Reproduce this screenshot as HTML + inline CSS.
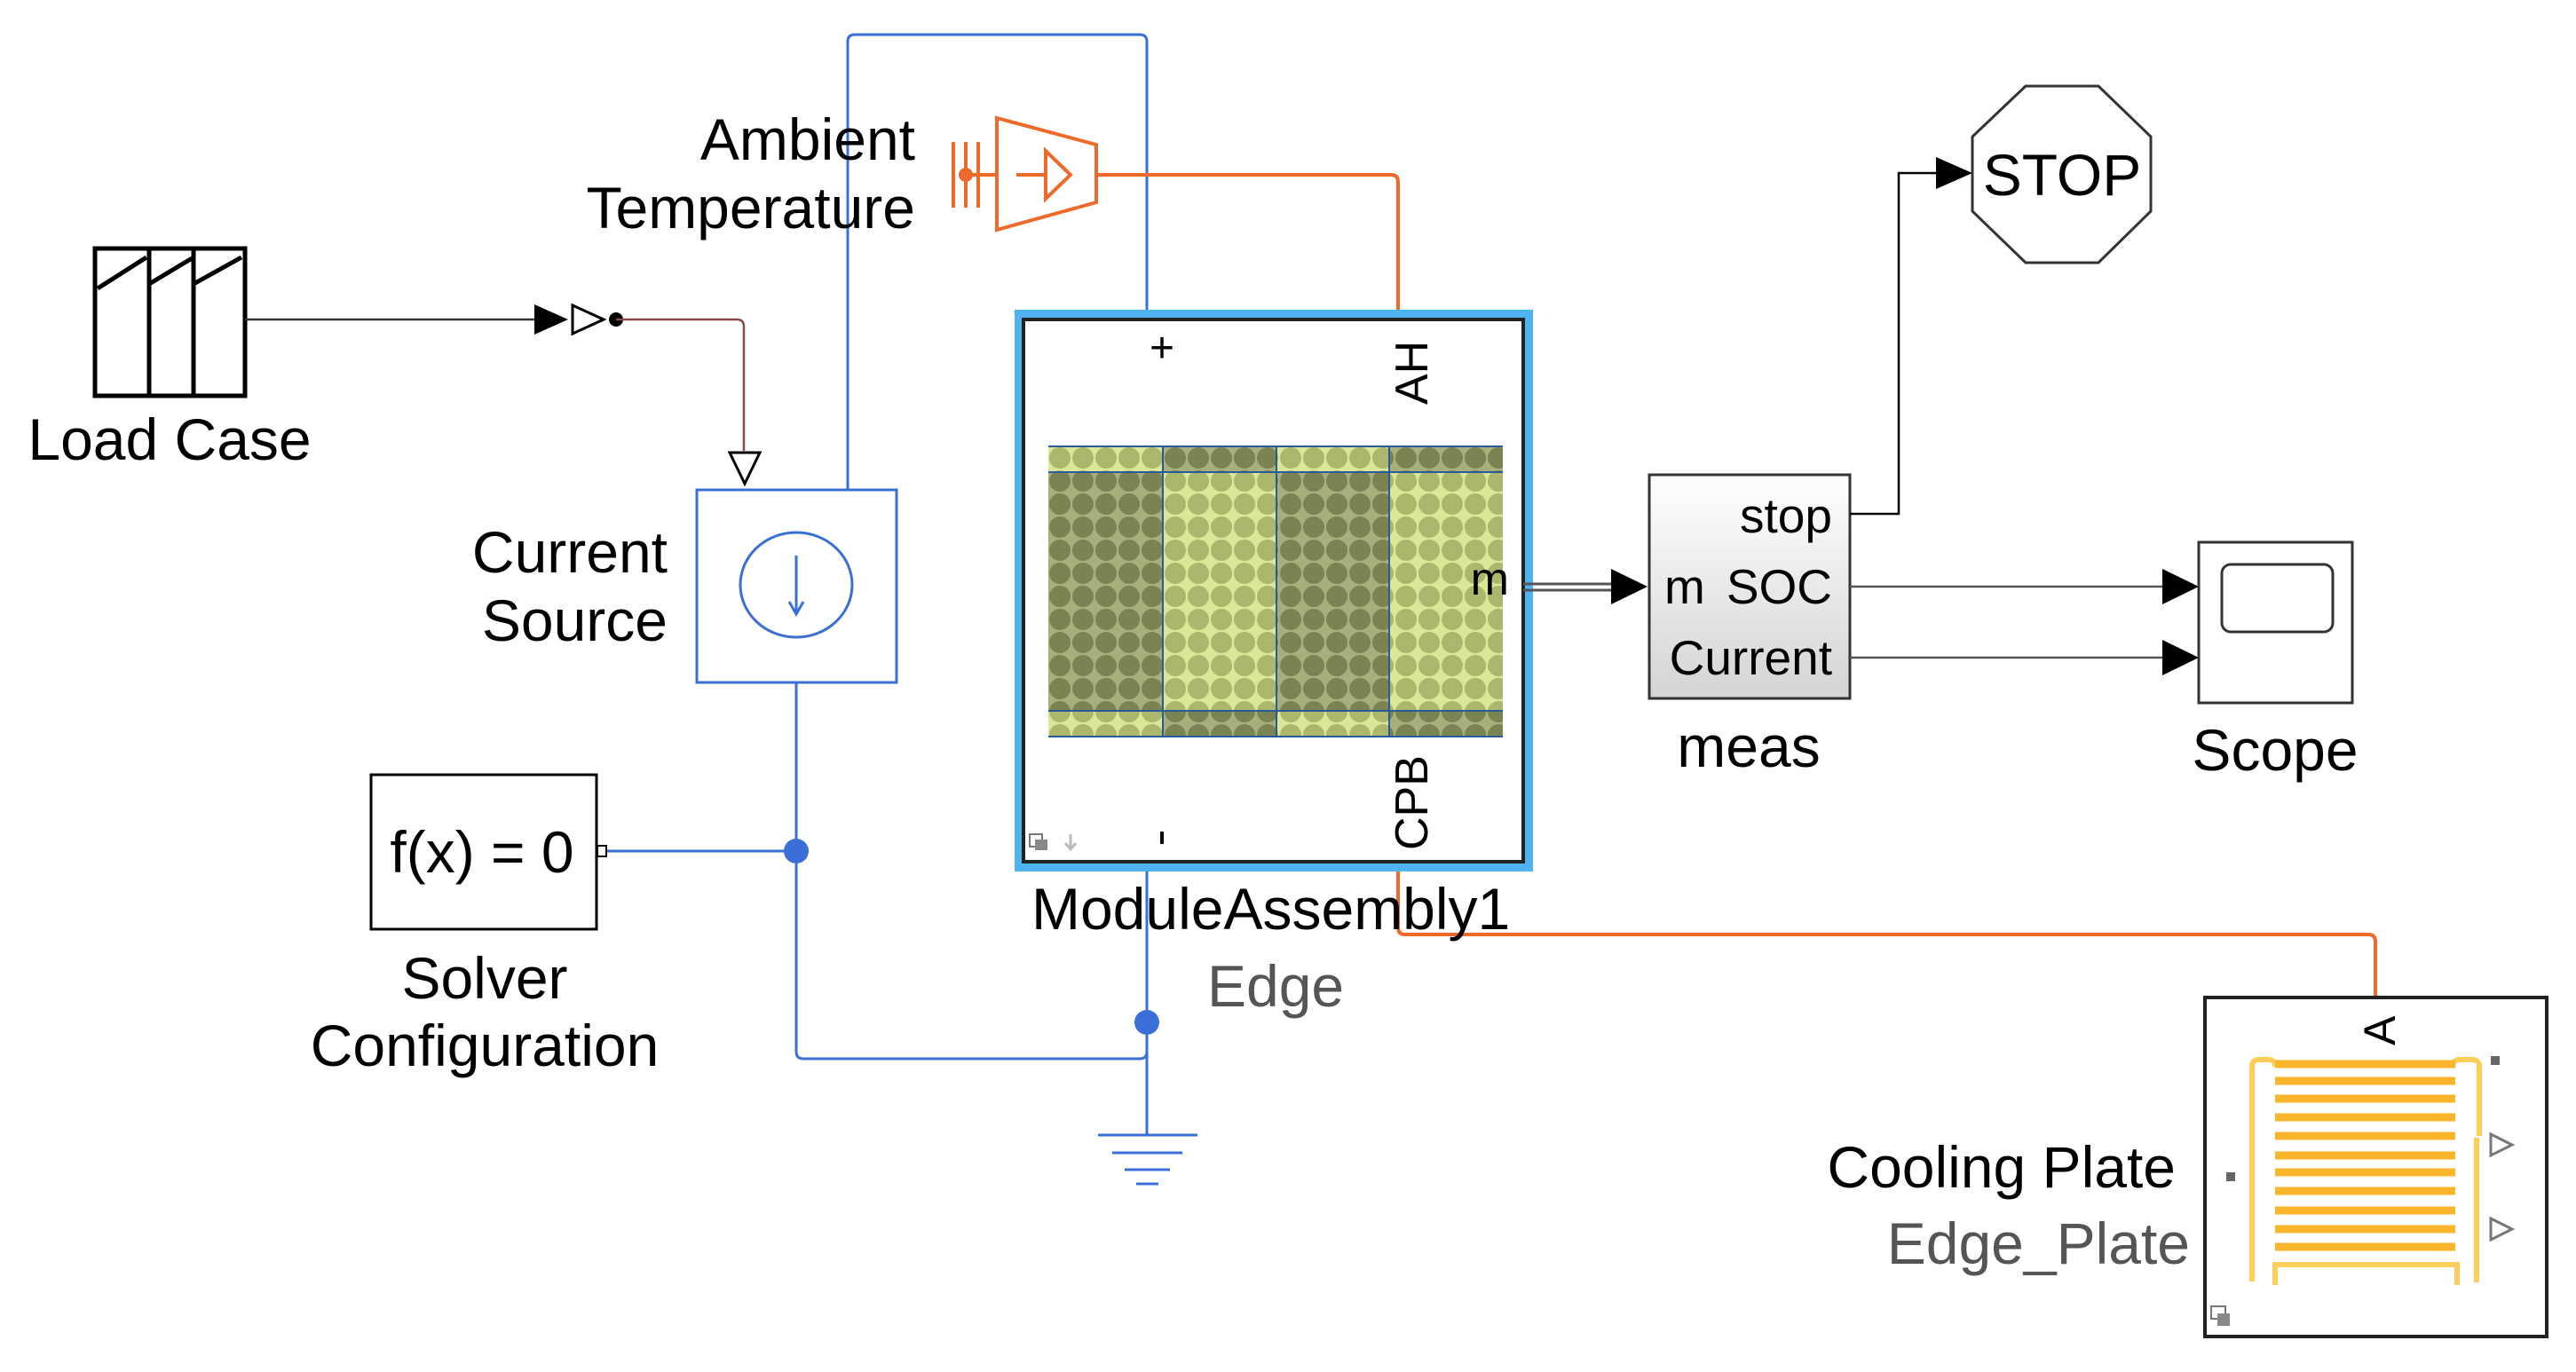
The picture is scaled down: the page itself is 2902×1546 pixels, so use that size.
<!DOCTYPE html>
<html><head><meta charset="utf-8"><style>html,body{margin:0;padding:0;background:#fff}svg{display:block}text{font-family:"Liberation Sans",sans-serif}</style></head>
<body>
<svg width="2902" height="1546" viewBox="0 0 2902 1546" xmlns="http://www.w3.org/2000/svg">
<defs>
<pattern id="pd" x="1181" y="503" width="26" height="26" patternUnits="userSpaceOnUse"><rect width="26" height="26" fill="#a6b07a"/><circle cx="13" cy="13" r="12" fill="#7a8352"/></pattern>
<pattern id="pl" x="1181" y="503" width="26" height="26" patternUnits="userSpaceOnUse"><rect width="26" height="26" fill="#dbe696"/><circle cx="13" cy="13" r="12" fill="#abb76c"/></pattern>
<linearGradient id="gm" x1="0" y1="0" x2="0" y2="1"><stop offset="0" stop-color="#ffffff"/><stop offset="1" stop-color="#d4d4d4"/></linearGradient>
</defs>

<!-- Load case -->
<rect x="107" y="280" width="169" height="166" fill="#fff" stroke="#000" stroke-width="5"/>
<path d="M110 325 L165 290 M168 280 V446 M168 320 L218 290 M218 280 V446 M218 320 L272 290" stroke="#000" stroke-width="5" fill="none"/>
<text x="191" y="518" font-size="66" text-anchor="middle">Load Case</text>
<line x1="276" y1="360" x2="602" y2="360" stroke="#333" stroke-width="2.5"/>
<polygon points="602,343 640,360 602,377" fill="#000"/>
<polygon points="645,344 680,360 645,376" fill="#fff" stroke="#000" stroke-width="3"/>
<circle cx="694" cy="360" r="8" fill="#000"/>
<path d="M694 360 H830 Q838 360 838 368 V508" stroke="#8a4a4a" stroke-width="2.5" fill="none"/>
<polygon points="822,510 856,510 839,545" fill="#fff" stroke="#000" stroke-width="3"/>

<!-- Current source -->
<rect x="785" y="552" width="225" height="217" fill="#fff" stroke="#3a6fd8" stroke-width="3"/>
<ellipse cx="897" cy="659" rx="63" ry="59" fill="none" stroke="#3a6fd8" stroke-width="3"/>
<path d="M897 626 V690 M889 678 L897 692 L905 678" stroke="#3a6fd8" stroke-width="3" fill="none"/>
<text x="752" y="645" font-size="66" text-anchor="end">Current</text>
<text x="752" y="722" font-size="66" text-anchor="end">Source</text>

<!-- blue wires -->
<path d="M955 552 V47 Q955 39 963 39 H1284 Q1292 39 1292 47 V360" stroke="#3a6fd8" stroke-width="3" fill="none"/>
<path d="M897 769 V1185 Q897 1193 905 1193 H1284 Q1292 1193 1292 1185" stroke="#3a6fd8" stroke-width="3" fill="none"/>
<path d="M1292 971 V1279" stroke="#3a6fd8" stroke-width="3" fill="none"/>
<path d="M684 959 H897" stroke="#3a6fd8" stroke-width="3" fill="none"/>
<circle cx="897" cy="959" r="14" fill="#3a6fd8"/>
<circle cx="1292" cy="1152" r="14" fill="#3a6fd8"/>
<path d="M1237 1279 H1349 M1253 1299 H1332 M1267 1318 H1318 M1280 1334 H1305" stroke="#3a6fd8" stroke-width="3"/>

<!-- Solver -->
<rect x="418" y="873" width="254" height="174" fill="#fff" stroke="#000" stroke-width="3"/>
<rect x="673" y="953" width="10" height="12" fill="#fff" stroke="#000" stroke-width="2"/>
<text x="543" y="983" font-size="66" text-anchor="middle">f(x) = 0</text>
<text x="546" y="1125" font-size="66" text-anchor="middle">Solver</text>
<text x="546" y="1201" font-size="66" text-anchor="middle">Configuration</text>

<!-- Ambient temp -->
<text x="1031" y="180" font-size="66" text-anchor="end">Ambient</text>
<text x="1031" y="257" font-size="66" text-anchor="end">Temperature</text>
<g stroke="#ee6a2a" stroke-width="4" fill="none">
<path d="M1074 160 V234 M1088 160 V234 M1102 160 V234 M1088 197 H1123"/>
<polygon points="1123,133 1235,163 1235,228 1123,259"/>
<path d="M1145 197 H1178 M1178 170 L1206 197 L1178 224 Z"/>
<path d="M1235 197 H1567 Q1575 197 1575 205 V360"/>
<path d="M1575 971 V1045 Q1575 1053 1583 1053 H2668 Q2676 1053 2676 1061 V1124"/>
</g>
<circle cx="1088" cy="197" r="8" fill="#ee6a2a"/>

<!-- Module -->
<rect x="1148" y="354" width="574" height="623" fill="none" stroke="#4fb3f0" stroke-width="10"/>
<rect x="1153" y="360" width="563" height="611" fill="#fff" stroke="#222" stroke-width="4"/>
<rect x="1181" y="503" width="129" height="327" fill="url(#pd)"/>
<rect x="1310" y="503" width="128" height="327" fill="url(#pl)"/>
<rect x="1438" y="503" width="127" height="327" fill="url(#pd)"/>
<rect x="1565" y="503" width="128" height="327" fill="url(#pl)"/>
<rect x="1181" y="503" width="129" height="29" fill="url(#pl)"/>
<rect x="1310" y="503" width="128" height="29" fill="url(#pd)"/>
<rect x="1438" y="503" width="127" height="29" fill="url(#pl)"/>
<rect x="1565" y="503" width="128" height="29" fill="url(#pd)"/>
<rect x="1181" y="801" width="129" height="29" fill="url(#pl)"/>
<rect x="1310" y="801" width="128" height="29" fill="url(#pd)"/>
<rect x="1438" y="801" width="127" height="29" fill="url(#pl)"/>
<rect x="1565" y="801" width="128" height="29" fill="url(#pd)"/>
<path d="M1181 503 H1693 M1181 532 H1693 M1181 801 H1693 M1181 830 H1693 M1310 503 V830 M1438 503 V830 M1565 503 V830" stroke="#2a5a9a" stroke-width="2"/>
<text x="1309" y="408" font-size="48" text-anchor="middle">+</text>
<rect x="1307" y="937" width="4" height="14" fill="#000"/>
<text font-size="52" transform="translate(1608 456) rotate(-90)">AH</text>
<text font-size="52" transform="translate(1608 958) rotate(-90)">CPB</text>
<text x="1700" y="670" font-size="52" text-anchor="end">m</text>
<rect x="1160" y="940" width="14" height="14" fill="#fff" stroke="#777" stroke-width="2"/><rect x="1166" y="946" width="14" height="12" fill="#888"/>
<path d="M1206 940 V956 M1200 950 L1206 957 L1212 950" stroke="#bbb" stroke-width="3" fill="none"/>
<text x="1162" y="1047" font-size="66">ModuleAssembly1</text>
<text x="1360" y="1134" font-size="66" fill="#555">Edge</text>

<!-- m signal -->
<path d="M1716 658 H1815 M1716 665 H1815" stroke="#555" stroke-width="3"/>
<polygon points="1815,641 1856,661 1815,681" fill="#000"/>

<!-- meas -->
<rect x="1858" y="535" width="226" height="252" fill="url(#gm)" stroke="#333" stroke-width="3"/>
<text x="2064" y="600" font-size="55" text-anchor="end">stop</text>
<text x="2064" y="680" font-size="55" text-anchor="end">SOC</text>
<text x="1875" y="680" font-size="55">m</text>
<text x="2064" y="760" font-size="55" text-anchor="end">Current</text>
<text x="1970" y="864" font-size="66" text-anchor="middle">meas</text>

<path d="M2084 579 H2139 V195 H2181" stroke="#000" stroke-width="2.5" fill="none"/>
<polygon points="2181,177 2222,195 2181,213" fill="#000"/>
<polygon points="2282,97 2364,97 2423,154 2423,238 2364,296 2282,296 2222,238 2222,154" fill="#fff" stroke="#333" stroke-width="3"/>
<text x="2323" y="220" font-size="66" text-anchor="middle">STOP</text>

<path d="M2084 661 H2436 M2084 741 H2436" stroke="#555" stroke-width="2.5"/>
<polygon points="2436,641 2477,661 2436,681" fill="#000"/>
<polygon points="2436,721 2477,741 2436,761" fill="#000"/>
<rect x="2477" y="611" width="173" height="181" fill="#fff" stroke="#333" stroke-width="3"/>
<rect x="2503" y="636" width="125" height="76" rx="10" fill="#fff" stroke="#333" stroke-width="3"/>
<text x="2563" y="868" font-size="66" text-anchor="middle">Scope</text>

<!-- Cooling plate -->
<rect x="2484" y="1124" width="385" height="382" fill="#fff" stroke="#222" stroke-width="4"/>
<text font-size="50" transform="translate(2698 1178) rotate(-90)">A</text>
<g stroke="#fccf5a" stroke-width="6" fill="none">
<path d="M2537 1444 V1202 Q2537 1194 2545 1194 H2556 Q2563 1194 2563 1202"/>
<path d="M2763 1202 Q2763 1194 2771 1194 H2785 Q2793 1194 2793 1202 V1280"/>
<path d="M2790 1282 V1445"/>
<path d="M2563 1448 V1425 H2768 V1448"/>
</g>
<g stroke="#fbb52a" stroke-width="9">
<path d="M2563 1199 H2766 M2563 1218 H2766 M2563 1238 H2766 M2563 1259 H2766 M2563 1280 H2766 M2563 1302 H2766 M2563 1321 H2766 M2563 1342 H2766 M2563 1364 H2766 M2563 1385 H2766 M2563 1405 H2766"/>
</g>
<rect x="2806" y="1190" width="10" height="10" fill="#666"/>
<rect x="2508" y="1321" width="10" height="10" fill="#666"/>
<polygon points="2806,1278 2830,1290 2806,1302" fill="#fff" stroke="#777" stroke-width="3"/>
<polygon points="2806,1373 2830,1385 2806,1397" fill="#fff" stroke="#777" stroke-width="3"/>
<rect x="2491" y="1472" width="16" height="14" fill="#fff" stroke="#777" stroke-width="2"/><rect x="2498" y="1480" width="14" height="14" fill="#888"/>
<text x="2451" y="1338" font-size="66" text-anchor="end">Cooling Plate</text>
<text x="2467" y="1424" font-size="66" text-anchor="end" fill="#555">Edge_Plate</text>
</svg>
</body></html>
